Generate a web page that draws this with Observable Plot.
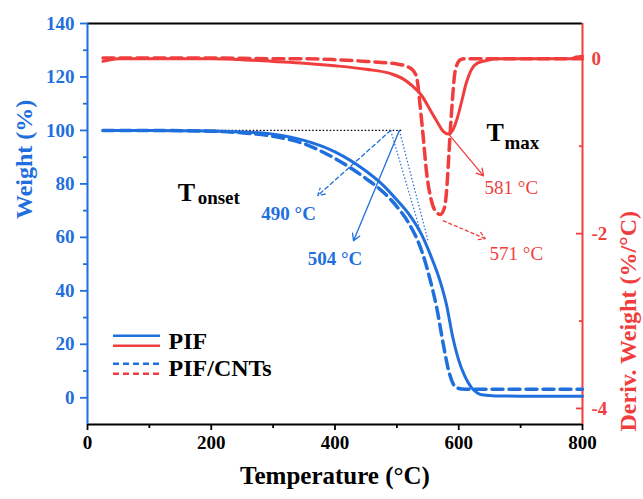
<!DOCTYPE html>
<html><head><meta charset="utf-8">
<script src="https://cdn.jsdelivr.net/npm/d3@7"></script>
<script src="https://cdn.jsdelivr.net/npm/@observablehq/plot@0.6"></script>
<style>
body{margin:0;background:#fff}
#chart svg{font-family:"Liberation Serif",serif}
#chart svg text{font-family:"Liberation Serif",serif !important}
</style>
</head><body><div id="chart"></div>
<script>
// ---- data ----
const tWeightPIF = [25,100,200,250,300,350,400,450,480,500,520,540,555,570,580,590,600,610,620,630,640,660,700,800];
const weightPIF  = [100,100,99.8,99.4,98.6,96.3,92,84.8,79,74,68.5,61,53,43.5,35,23,14,8,4,1.8,1.0,0.7,0.6,0.6];
const tWeightCNT = [25,100,200,250,300,350,400,450,480,500,520,540,555,565,575,585,595,605,620,800];
const weightCNT  = [100,100,99.7,99.1,97.8,95,89.5,82,76.5,71.5,65,55,43,33,20,9,4,3.3,3.2,3.2];
const tDerivPIF  = [25,50,100,200,250,300,350,400,450,490,510,525,540,555,565,575,583,590,598,605,612,620,630,645,660,700,780,790,800];
const derivPIF   = [-0.03,0,0,0,-0.01,-0.03,-0.05,-0.08,-0.12,-0.17,-0.23,-0.31,-0.42,-0.6,-0.72,-0.83,-0.86,-0.82,-0.67,-0.48,-0.28,-0.13,-0.05,-0.02,0,0,0,0.02,0.03];
const tDerivCNT  = [25,100,200,300,350,400,450,500,520,528,533,537,542,548,555,562,570,577,581,584,587,590,593,597,603,610,800];
const derivCNT   = [0.01,0.01,0.01,0,0,-0.01,-0.03,-0.06,-0.1,-0.15,-0.25,-0.5,-0.85,-1.3,-1.6,-1.74,-1.78,-1.7,-1.45,-1.1,-0.75,-0.45,-0.2,-0.07,-0.01,0,0];

const xTicks = [0,200,400,600,800];
const xMinor = [100,300,500,700];
const wTicks = [0,20,40,60,80,100,120,140];
const wMinor = [10,30,50,70,90,110,130];
const dTicks = [0,-2,-4];
const dMinor = [-1,-3];
const xDomain = [0,800];
const wDomain = [-10,140];

// derivative axis mapped onto weight axis
const D0 = 126.8, DS = 32.7;
const toW = d => D0 + DS*d;

// annotations (temperature, weight units)
const tangentLines = [ {x1:490,y1:100,x2:541,y2:60}, {x1:504,y1:100,x2:550,y2:59} ];
const baseline100 = [ {x1:166,x2:511,y:100} ];
const blueArrows = [ {x1:490,y1:100,x2:372,y2:75.6,dash:"4,3"}, {x1:504,y1:100,x2:430,y2:58.7,dash:null} ];
const redArrows  = [ {x1:583,y1:98.8,x2:640,y2:83,dash:null}, {x1:575,y1:66.2,x2:643,y2:59.5,dash:"3,3"} ];
const blueLabels = [ {x:325,y:68.8,t:"490 °C"}, {x:400,y:52,t:"504 °C"} ];
const redLabels  = [ {x:685,y:78.6,t:"581 °C"}, {x:693,y:53.9,t:"571 °C"} ];
const bigT = [ {x:659,y:99.1}, {x:160,y:76.7} ];
const subs = [ {x:674,y:95.4,t:"max"}, {x:178,y:74.8,t:"onset"} ];
const legendItems = [
  {x1:42,x2:118,y:23.2,c:"blue",dash:null},
  {x1:42,x2:118,y:19.5,c:"red",dash:null},
  {x1:42,x2:118,y:12.7,c:"blue",dash:"6,4"},
  {x1:42,x2:118,y:9.0,c:"red",dash:"6,4"}
];
const legendLabels = [ {x:131,y:21.1,t:"PIF"}, {x:131,y:11.0,t:"PIF/CNTs"} ];

const BLUE = "#1f6fdd", RED = "#f03e3e";
const FONT = "Liberation Serif";
const col = c => c === "blue" ? BLUE : RED;

const rowsW1 = tWeightPIF.map((t,i)=>({t, w: weightPIF[i]}));
const rowsW2 = tWeightCNT.map((t,i)=>({t, w: weightCNT[i]}));
const rowsD1 = tDerivPIF.map((t,i)=>({t, w: toW(derivPIF[i])}));
const rowsD2 = tDerivCNT.map((t,i)=>({t, w: toW(derivCNT[i])}));

const fmtD = w => { const d = Math.round((w - D0)/DS); return d < 0 ? "-" + (-d) : String(d); };

const chart = Plot.plot({
  width: 643, height: 499,
  marginLeft: 87, marginRight: 61, marginTop: 23, marginBottom: 75,
  style: {fontFamily: FONT, background: "#fff"},
  x: {domain: xDomain},
  y: {domain: wDomain},
  marks: [
    // axes
    Plot.axisX({ticks: xTicks, tickSize: 6, tickPadding: 5, color: "black", fontSize: 19, fontWeight: "bold", fontFamily: FONT, strokeWidth: 1.8, label: null}),
    Plot.axisX({ticks: xMinor, tickSize: 4, color: "black", strokeWidth: 1.8, tickFormat: () => "", label: null}),
    Plot.axisY({ticks: wTicks, tickSize: 7, tickPadding: 6, color: BLUE, fontSize: 19, fontWeight: "bold", fontFamily: FONT, strokeWidth: 1.8, label: null}),
    Plot.axisY({ticks: wMinor, tickSize: 4, color: BLUE, strokeWidth: 1.8, tickFormat: () => "", label: null}),
    Plot.axisY({anchor: "right", ticks: dTicks.map(toW), tickFormat: fmtD, tickSize: -7, tickPadding: 16, color: RED, fontSize: 19, fontWeight: "bold", fontFamily: FONT, strokeWidth: 1.8, label: null}),
    Plot.axisY({anchor: "right", ticks: dMinor.map(toW), tickFormat: () => "", tickSize: -4, color: RED, strokeWidth: 1.8, label: null}),
    // frame
    Plot.ruleY([wDomain[1]], {stroke: "black", strokeWidth: 2}),
    Plot.ruleY([wDomain[0]], {stroke: "black", strokeWidth: 2}),
    Plot.ruleX([xDomain[0]], {stroke: BLUE, strokeWidth: 2}),
    Plot.ruleX([xDomain[1]], {stroke: RED, strokeWidth: 2}),
    // annotation guide lines
    Plot.ruleY(baseline100, {x1: "x1", x2: "x2", y: "y", stroke: "black", strokeWidth: 1.2, strokeDasharray: "1.5,2"}),
    Plot.link(tangentLines, {x1: "x1", y1: "y1", x2: "x2", y2: "y2", stroke: BLUE, strokeWidth: 1.2, strokeDasharray: "1.5,2"}),
    // curves
    Plot.line(rowsD1, {x: "t", y: "w", stroke: RED, strokeWidth: 3, curve: "monotone-x"}),
    Plot.line(rowsD2, {x: "t", y: "w", stroke: RED, strokeWidth: 3.5, strokeDasharray: "11,6", curve: "monotone-x"}),
    Plot.line(rowsW1, {x: "t", y: "w", stroke: BLUE, strokeWidth: 3, curve: "monotone-x"}),
    Plot.line(rowsW2, {x: "t", y: "w", stroke: BLUE, strokeWidth: 3.5, strokeDasharray: "11,6", curve: "monotone-x"}),
    // arrows
    ...blueArrows.map(a => Plot.arrow([a], {x1: "x1", y1: "y1", x2: "x2", y2: "y2", stroke: BLUE, strokeWidth: 1.3, headLength: 9, strokeDasharray: a.dash})),
    ...redArrows.map(a => Plot.arrow([a], {x1: "x1", y1: "y1", x2: "x2", y2: "y2", stroke: RED, strokeWidth: 1.3, headLength: 9, strokeDasharray: a.dash})),
    // labels
    Plot.text(blueLabels, {x: "x", y: "y", text: "t", fill: BLUE, fontSize: 19, fontWeight: "bold", fontFamily: FONT}),
    Plot.text(redLabels, {x: "x", y: "y", text: "t", fill: RED, fontSize: 19, fontFamily: FONT}),
    Plot.text(bigT, {x: "x", y: "y", text: () => "T", fill: "black", fontSize: 26, fontWeight: "bold", fontFamily: FONT}),
    Plot.text(subs, {x: "x", y: "y", text: "t", fill: "black", fontSize: 19, fontWeight: "bold", fontFamily: FONT, textAnchor: "start"}),
    // legend
    ...legendItems.map(l => Plot.ruleY([l], {x1: "x1", x2: "x2", y: "y", stroke: col(l.c), strokeWidth: 2.5, strokeDasharray: l.dash})),
    Plot.text(legendLabels, {x: "x", y: "y", text: "t", fill: "black", fontSize: 24, fontWeight: "bold", fontFamily: FONT, textAnchor: "start"}),
    // axis titles
    Plot.text(["Weight (%)"], {frameAnchor: "left", dx: -63, dy: -5, rotate: -90, fill: BLUE, fontSize: 24, fontWeight: "bold", fontFamily: FONT}),
    Plot.text(["Deriv. Weight (%/°C)"], {frameAnchor: "right", dx: 46, dy: -13, rotate: -90, fill: RED, fontSize: 24, fontWeight: "bold", fontFamily: FONT}),
    Plot.text(["Temperature (°C)"], {frameAnchor: "bottom", dy: 59, fill: "black", fontSize: 25, fontWeight: "bold", fontFamily: FONT})
  ]
});
document.getElementById("chart").appendChild(chart);
</script>
</body></html>
